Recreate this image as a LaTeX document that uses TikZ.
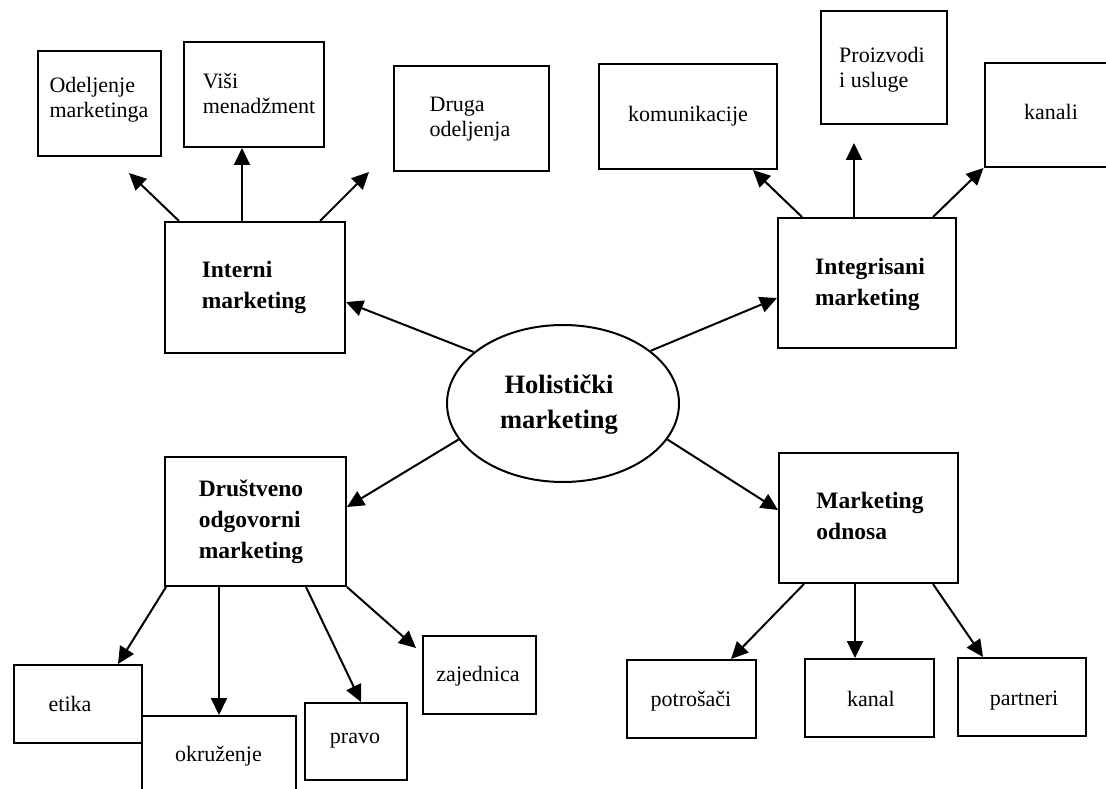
\documentclass[tikz,border=0pt]{standalone}
\usepackage{fontspec}
\setmainfont{Liberation Serif}
\usetikzlibrary{arrows.meta,shapes.geometric}
\begin{document}
\begin{tikzpicture}[x=1pt,y=-1pt,
  box/.style={draw,line width=2pt,inner sep=0pt},
  txt/.style={font={\fontsize{22}{25}\selectfont},align=left,inner sep=0pt},
  btxt/.style={font={\fontsize{23.5}{31}\selectfont\bfseries},align=left,inner sep=0pt},
  htxt/.style={font={\fontsize{26.5}{35}\selectfont\bfseries},align=center,inner sep=0pt},
  arr/.style={line width=2pt,-{Triangle[length=17pt,width=16pt]}}
]
\useasboundingbox[fill=white] (0,0) rectangle (1106,789);

% --- boxes ---
\node[box,minimum width=123pt,minimum height=105pt] (odel) at (99.5,103.5) {};
\node[box,minimum width=140pt,minimum height=105pt] (visi) at (254,94.5) {};
\node[box,minimum width=155pt,minimum height=105pt] (druga) at (471.5,118.5) {};
\node[box,minimum width=180pt,minimum height=131pt] (interni) at (255,287.5) {};
\node[box,ellipse,minimum width=232pt,minimum height=157pt] (holist) at (563,403.5) {};
\node[box,minimum width=178pt,minimum height=105pt] (komun) at (688,116.5) {};
\node[box,minimum width=126pt,minimum height=113pt] (proiz) at (884,67.5) {};
\node[box,minimum width=135pt,minimum height=104pt] (kanali) at (1052,115) {};
\node[box,minimum width=178pt,minimum height=130pt] (integ) at (867,283) {};
\node[box,minimum width=181pt,minimum height=129pt] (drust) at (255.5,521.5) {};
\node[box,minimum width=128pt,minimum height=78pt] (etika) at (78,704) {};
\node[box,minimum width=154pt,minimum height=90pt] (okruz) at (219,761) {};
\node[box,minimum width=102pt,minimum height=77pt] (pravo) at (356,741.5) {};
\node[box,minimum width=113pt,minimum height=78pt] (zajed) at (479.5,675) {};
\node[box,minimum width=179pt,minimum height=130pt] (modn) at (868.5,518) {};
\node[box,minimum width=129pt,minimum height=78pt] (potro) at (691.5,699) {};
\node[box,minimum width=129pt,minimum height=78pt] (kanal) at (869.5,698) {};
\node[box,minimum width=128pt,minimum height=78pt] (partn) at (1022,697) {};

% --- texts ---
\node[txt] (odel-t) at (99,100) {Odeljenje\\marketinga};
\node[txt] (visi-t) at (259,93) {Viši\\menadžment};
\node[txt] (druga-t) at (470,119) {Druga\\odeljenja};
\node[btxt] (interni-t) at (254,287) {Interni\\marketing};
\node[htxt] (holist-t) at (559,405) {Holistički\\marketing};
\node[txt] (komun-t) at (688,116) {komunikacije};
\node[txt] (proiz-t) at (882,70) {Proizvodi\\i usluge};
\node[txt] (kanali-t) at (1051,112) {kanali};
\node[btxt] (integ-t) at (870,284) {Integrisani\\marketing};
\node[btxt] (drust-t) at (251,522) {Društveno\\odgovorni\\marketing};
\node[txt] (etika-t) at (70,704) {etika};
\node[txt] (okruz-t) at (218.5,756) {okruženje};
\node[txt] (pravo-t) at (355,741) {pravo};
\node[txt] (zajed-t) at (478,676) {zajednica};
\node[btxt] (modn-t) at (870,516) {Marketing\\odnosa};
\node[txt] (potro-t) at (691,701) {potrošači};
\node[txt] (kanal-t) at (871,699) {kanal};
\node[txt] (partn-t) at (1024,701) {partneri};

% --- free arrow ends ---
\coordinate (c1) at (129,173);
\coordinate (c3) at (369,172);
\coordinate (c4) at (854,143);
\coordinate (c5) at (416,648);

% --- connectors ---
\draw[arr] (holist.150) -- ([yshift=-14.5pt]interni.east);
\draw[arr] (holist.31) -- ([yshift=-15pt]integ.west);
\draw[arr] (holist.199) -- ([yshift=14.5pt]drust.east);
\draw[arr] (holist.341) -- ([yshift=8pt]modn.west);

\draw[arr] ([xshift=-76pt]interni.north) -- (c1);
\draw[arr] ([xshift=-13pt]interni.north) -- ([xshift=-12pt]visi.south);
\draw[arr] ([xshift=65pt]interni.north) -- (c3);

\draw[arr] ([xshift=-65pt]integ.north) -- ([xshift=65pt]komun.south);
\draw[arr] ([xshift=-13pt]integ.north) -- (c4);
\draw[arr] ([xshift=66pt]integ.north) -- (kanali.south west);

\draw[arr] ([xshift=-89.5pt]drust.south) -- ([xshift=40pt]etika.north);
\draw[arr] ([xshift=-36.5pt]drust.south) -- (okruz.north);
\draw[arr] ([xshift=50.5pt]drust.south) -- ([xshift=5pt]pravo.north);
\draw[arr] (drust.south east) -- (c5);

\draw[arr] ([xshift=-64.5pt]modn.south) -- ([xshift=39.5pt]potro.north);
\draw[arr] ([xshift=-13.5pt]modn.south) -- ([xshift=-14.5pt]kanal.north);
\draw[arr] ([xshift=64.5pt]modn.south) -- ([xshift=-39pt]partn.north);
\end{tikzpicture}
\end{document}
